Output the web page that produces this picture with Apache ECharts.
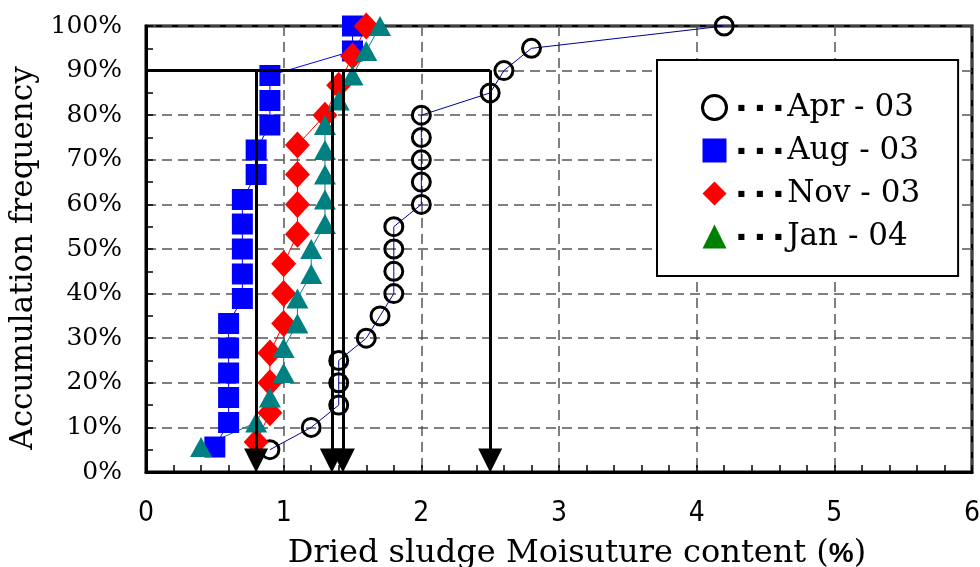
<!DOCTYPE html>
<html>
<head>
<meta charset="utf-8">
<script src="https://cdn.jsdelivr.net/npm/echarts@6/dist/echarts.min.js"></script>
<style>
  html, body { margin: 0; padding: 0; background: #fff; }
  #chart { width: 980px; height: 567px; }
</style>
</head>
<body>
<div id="chart"></div>
<script>
// moisture content (%) and accumulation frequency (%) per sampling month
const aprX = [0.9, 1.2, 1.4, 1.4, 1.4, 1.6, 1.7, 1.8, 1.8, 1.8, 1.8, 2.0, 2.0, 2.0, 2.0, 2.0, 2.5, 2.6, 2.8, 4.2]
const aprY = [5, 10, 15, 20, 25, 30, 35, 40, 45, 50, 55, 60, 65, 70, 75, 80, 85, 90, 95, 100]

const augX = [0.5, 0.6, 0.6, 0.6, 0.6, 0.6, 0.7, 0.7, 0.7, 0.7, 0.7, 0.8, 0.8, 0.9, 0.9, 0.9, 1.5, 1.5]
const augY = [5.6, 11.1, 16.7, 22.2, 27.8, 33.3, 38.9, 44.4, 50.0, 55.6, 61.1, 66.7, 72.2, 77.8, 83.3, 88.9, 94.4, 100]

const novX = [0.8, 0.9, 0.9, 0.9, 1.0, 1.0, 1.0, 1.1, 1.1, 1.1, 1.1, 1.3, 1.4, 1.5, 1.6]
const novY = [6.7, 13.3, 20.0, 26.7, 33.3, 40.0, 46.7, 53.3, 60.0, 66.7, 73.3, 80.0, 86.7, 93.3, 100]

const janX = [0.4, 0.8, 0.9, 1.0, 1.0, 1.1, 1.1, 1.2, 1.2, 1.3, 1.3, 1.3, 1.3, 1.3, 1.4, 1.5, 1.6, 1.7]
const janY = [5.6, 11.1, 16.7, 22.2, 27.8, 33.3, 38.9, 44.4, 50.0, 55.6, 61.1, 66.7, 72.2, 77.8, 83.3, 88.9, 94.4, 100]

// 90% cumulative values
const level90 = 90
const x90 = [2.5, 0.8, 1.35, 1.43]

const seriesNames = ['Apr - 03', 'Aug - 03', 'Nov - 03', 'Jan - 04']

const serif = "'DejaVu Serif', serif"
// arrow heads are centred on their end point, lift it so the tip sits on the axis
const arrowLift = 2.6

function pairs(xs, ys) {
  return xs.map((x, i) => [x, ys[i]])
}

const chart = echarts.init(document.getElementById('chart'))

const refLines = [
  [{ coord: [0, level90] }, { coord: [Math.max(...x90), level90] }]
].concat(x90.map(x => [
  { coord: [x, level90], symbol: 'none' },
  { coord: [x, arrowLift], symbol: 'triangle' }
]))

chart.setOption({
  animation: false,
  grid: {
    left: 146,
    right: 8,
    top: 26,
    bottom: 95,
    outerBoundsMode: 'none',
    containLabel: false,
    show: true,
    borderColor: '#000',
    borderWidth: 3
  },
  legend: {
    orient: 'vertical',
    left: 657,
    top: 60,
    padding: [30, 38, 22, 44],
    borderColor: '#000',
    borderWidth: 2,
    backgroundColor: '#fff',
    itemWidth: 24,
    itemHeight: 24,
    itemGap: 8,
    selectedMode: false,
    textStyle: {
      fontFamily: serif,
      fontSize: 31,
      lineHeight: 35,
      color: '#000',
      rich: {
        d: { fontFamily: "'DejaVu Sans', sans-serif", fontSize: 8, padding: [0, 5, 0, 6], color: '#000' }
      }
    },
    formatter: name => '{d|■}{d|■}{d|■}' + name,
    data: [
      { name: seriesNames[0], icon: 'circle', itemStyle: { color: 'rgba(0,0,0,0)', borderColor: '#000', borderWidth: 3 } },
      { name: seriesNames[1], icon: 'rect', itemStyle: { color: '#0000ff', borderWidth: 0 } },
      { name: seriesNames[2], icon: 'diamond', itemStyle: { color: '#ff0000', borderWidth: 0 } },
      { name: seriesNames[3], icon: 'triangle', itemStyle: { color: '#008000', borderWidth: 0 } }
    ]
  },
  xAxis: {
    type: 'value',
    min: 0,
    max: 6,
    interval: 1,
    name: 'Dried sludge Moisuture content ({p|%})',
    nameLocation: 'middle',
    nameGap: 66,
    nameTextStyle: {
      fontFamily: serif,
      fontSize: 32,
      color: '#000',
      padding: [0, 0, 0, 36],
      rich: {
        p: { fontFamily: "'Liberation Sans', sans-serif", fontWeight: 'bold', fontSize: 28, color: '#000' }
      }
    },
    axisLine: { lineStyle: { color: '#000', width: 3 } },
    axisTick: { inside: true, length: 7, lineStyle: { color: '#000', width: 1.5 } },
    minorTick: { show: true, splitNumber: 5, length: 7, lineStyle: { color: '#000', width: 1.5 } },
    splitLine: { show: true, lineStyle: { color: '#555', width: 1.5, type: [10, 6] } },
    axisLabel: {
      margin: 28,
      fontFamily: "'Liberation Sans Narrow', 'DejaVu Sans Condensed', sans-serif",
      fontSize: 28,
      color: '#000'
    }
  },
  yAxis: {
    type: 'value',
    min: 0,
    max: 100,
    interval: 10,
    name: 'Accumulation frequency',
    nameLocation: 'middle',
    nameGap: 101,
    nameTextStyle: { fontFamily: serif, fontSize: 31, color: '#000', padding: [0, 18, 0, 0] },
    axisLine: { lineStyle: { color: '#000', width: 3 } },
    axisTick: { inside: true, length: 7, lineStyle: { color: '#000', width: 1.5 } },
    minorTick: { show: true, splitNumber: 2, length: 7, lineStyle: { color: '#000', width: 1.5 } },
    splitLine: { show: true, lineStyle: { color: '#555', width: 1.5, type: [10, 6] } },
    axisLabel: {
      margin: 24,
      formatter: '{value}%',
      fontFamily: serif,
      fontSize: 25,
      color: '#000'
    }
  },
  series: [
    {
      name: seriesNames[0],
      type: 'line',
      clip: false,
      data: pairs(aprX, aprY),
      symbol: 'circle',
      symbolSize: 18,
      itemStyle: { color: 'rgba(0,0,0,0)', borderColor: '#000', borderWidth: 3 },
      lineStyle: { color: '#000090', width: 1 },
      z: 3
    },
    {
      name: seriesNames[1],
      type: 'line',
      clip: false,
      data: pairs(augX, augY),
      symbol: 'rect',
      symbolSize: 21,
      itemStyle: { color: '#0000ff' },
      lineStyle: { color: '#0000ff', width: 1 },
      z: 3
    },
    {
      name: seriesNames[2],
      type: 'line',
      clip: false,
      data: pairs(novX, novY),
      symbol: 'diamond',
      symbolSize: [25, 27],
      itemStyle: { color: '#ff0000' },
      lineStyle: { color: '#ff0000', width: 1 },
      z: 3
    },
    {
      name: seriesNames[3],
      type: 'line',
      clip: false,
      data: pairs(janX, janY),
      symbol: 'triangle',
      symbolSize: [22, 20],
      itemStyle: { color: '#008080' },
      lineStyle: { color: '#008080', width: 1 },
      z: 3
    },
    {
      type: 'line',
      clip: false,
      data: [],
      z: 5,
      markLine: {
        silent: true,
        animation: false,
        symbol: ['none', 'none'],
        symbolSize: 24,
        label: { show: false },
        lineStyle: { color: '#000', width: 3, type: 'solid' },
        emphasis: { disabled: true },
        data: refLines
      }
    }
  ]
})
</script>
</body>
</html>
